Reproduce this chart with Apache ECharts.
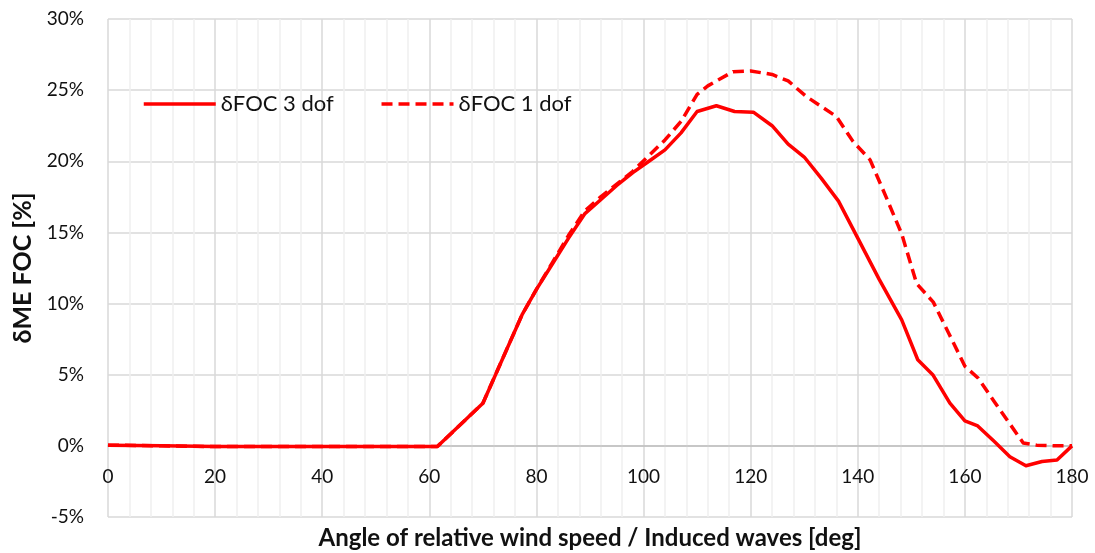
<!DOCTYPE html>
<html>
<head>
<meta charset="utf-8">
<title>δME FOC vs angle</title>
<script src="https://cdn.jsdelivr.net/npm/echarts@6/dist/echarts.min.js"></script>
<style>
  html, body { margin: 0; padding: 0; background: #ffffff; }
  #chart { width: 1095px; height: 553px; }
</style>
</head>
<body>
<div id="chart"></div>
<script>
// Angle of relative wind / induced waves [deg] and the FOC increase [%]
const angles3dof = [0, 10, 20, 30, 40, 50, 61.5, 70, 77.3, 80, 83, 86, 89, 92, 95, 98, 101, 104, 107, 110, 113.6, 117, 120.5, 124, 127, 130, 133.2, 136.4, 140, 144, 148.2, 151.2, 154, 157.2, 160, 162.4, 165.5, 168.4, 171.4, 174.4, 177.2, 180];
const foc3dof = [0.05, 0.0, -0.05, -0.05, -0.05, -0.05, -0.05, 3.0, 9.2, 11.0, 12.8, 14.6, 16.3, 17.3, 18.3, 19.2, 20.0, 20.8, 22.0, 23.5, 23.9, 23.5, 23.45, 22.5, 21.2, 20.3, 18.8, 17.2, 14.6, 11.7, 8.85, 6.05, 5.0, 3.0, 1.76, 1.4, 0.3, -0.77, -1.4, -1.1, -1.0, 0.0];

const angles1dof = [0, 10, 20, 30, 40, 50, 61.5, 70, 77.3, 80, 83, 86, 89, 92, 95, 98, 101, 104, 107, 110, 112, 116.7, 120, 124, 127, 130.4, 133.2, 136, 139.1, 142.3, 145.5, 148.2, 151, 154.1, 157, 160, 162.5, 165.5, 168.2, 170.9, 173.4, 177, 180];
const foc1dof = [0.05, 0.0, -0.05, -0.05, -0.05, -0.05, -0.05, 3.0, 9.2, 11.0, 12.9, 14.8, 16.5, 17.5, 18.4, 19.3, 20.4, 21.5, 22.8, 24.7, 25.3, 26.3, 26.35, 26.1, 25.65, 24.55, 23.85, 23.15, 21.4, 20.1, 17.3, 14.9, 11.4, 10.1, 7.9, 5.6, 4.75, 3.1, 1.65, 0.2, 0.05, 0.0, 0.0];

const seriesNames = ['δFOC 3 dof', 'δFOC 1 dof'];
const xAxisTitle = 'Angle of relative wind speed / Induced waves [deg]';
const yAxisTitle = 'δME FOC [%]';

const pairs = (xs, ys) => xs.map((x, i) => [x, ys[i]]);

const FONT = 'Lato, "Open Sans", sans-serif';
const RED = '#ff0000';

// Plot box and value range of the y axis; the x axis crosses at 0 %
const GRID = { left: 108, right: 23, top: 19, bottom: 36 };
const Y_MIN = -5, Y_MAX = 30;
const plotHeight = 553 - GRID.top - GRID.bottom;
const zeroOffset = -plotHeight * (0 - Y_MIN) / (Y_MAX - Y_MIN);

const chart = echarts.init(document.getElementById('chart'), null, { renderer: 'canvas' });

chart.setOption({
  animation: false,
  backgroundColor: '#ffffff',
  textStyle: { fontFamily: FONT },
  grid: Object.assign({ containLabel: false, outerBoundsMode: 'none' }, GRID),
  legend: {
    left: 137,
    top: 88,
    itemWidth: 72,
    itemHeight: 14,
    itemGap: 46,
    data: seriesNames,
    itemStyle: { opacity: 0 },
    lineStyle: { width: 3.5 },
    textStyle: { fontFamily: FONT, fontSize: 22, color: '#111111' }
  },
  xAxis: {
    type: 'value',
    min: 0,
    max: 180,
    interval: 20,
    position: 'bottom',
    offset: zeroOffset,
    name: xAxisTitle,
    nameLocation: 'middle',
    nameGap: 80,
    nameTextStyle: { fontFamily: FONT, fontSize: 24, fontWeight: 'bold', color: '#111111' },
    axisLine: { show: true, onZero: false, lineStyle: { color: '#bfbfbf', width: 1.5 } },
    axisTick: { show: false },
    minorTick: { show: false, splitNumber: 5 },
    axisLabel: { margin: 22, fontFamily: FONT, fontSize: 19, color: '#111111' },
    splitLine: { show: true, lineStyle: { color: '#d9d9d9', width: 1.5 } },
    minorSplitLine: { show: true, lineStyle: { color: '#efefef', width: 1.5 } }
  },
  yAxis: {
    type: 'value',
    min: Y_MIN,
    max: Y_MAX,
    interval: 5,
    name: yAxisTitle,
    nameLocation: 'middle',
    nameGap: 68,
    nameRotate: 90,
    nameTextStyle: { fontFamily: FONT, fontSize: 25, fontWeight: 'bold', color: '#111111' },
    axisLine: { show: false },
    axisTick: { show: false },
    axisLabel: { margin: 24, fontFamily: FONT, fontSize: 19, color: '#111111', formatter: '{value}%' },
    splitLine: { show: true, lineStyle: { color: '#d9d9d9', width: 1.5 } }
  },
  series: [
    {
      name: seriesNames[0],
      type: 'line',
      data: pairs(angles3dof, foc3dof),
      symbol: 'none',
      z: 3,
      lineStyle: { color: RED, width: 3.5, type: 'solid', join: 'round' },
      itemStyle: { color: RED }
    },
    {
      name: seriesNames[1],
      type: 'line',
      data: pairs(angles1dof, foc1dof),
      symbol: 'none',
      z: 2,
      lineStyle: { color: RED, width: 3.5, type: [11, 6], join: 'round' },
      itemStyle: { color: RED }
    }
  ]
});
</script>
</body>
</html>
